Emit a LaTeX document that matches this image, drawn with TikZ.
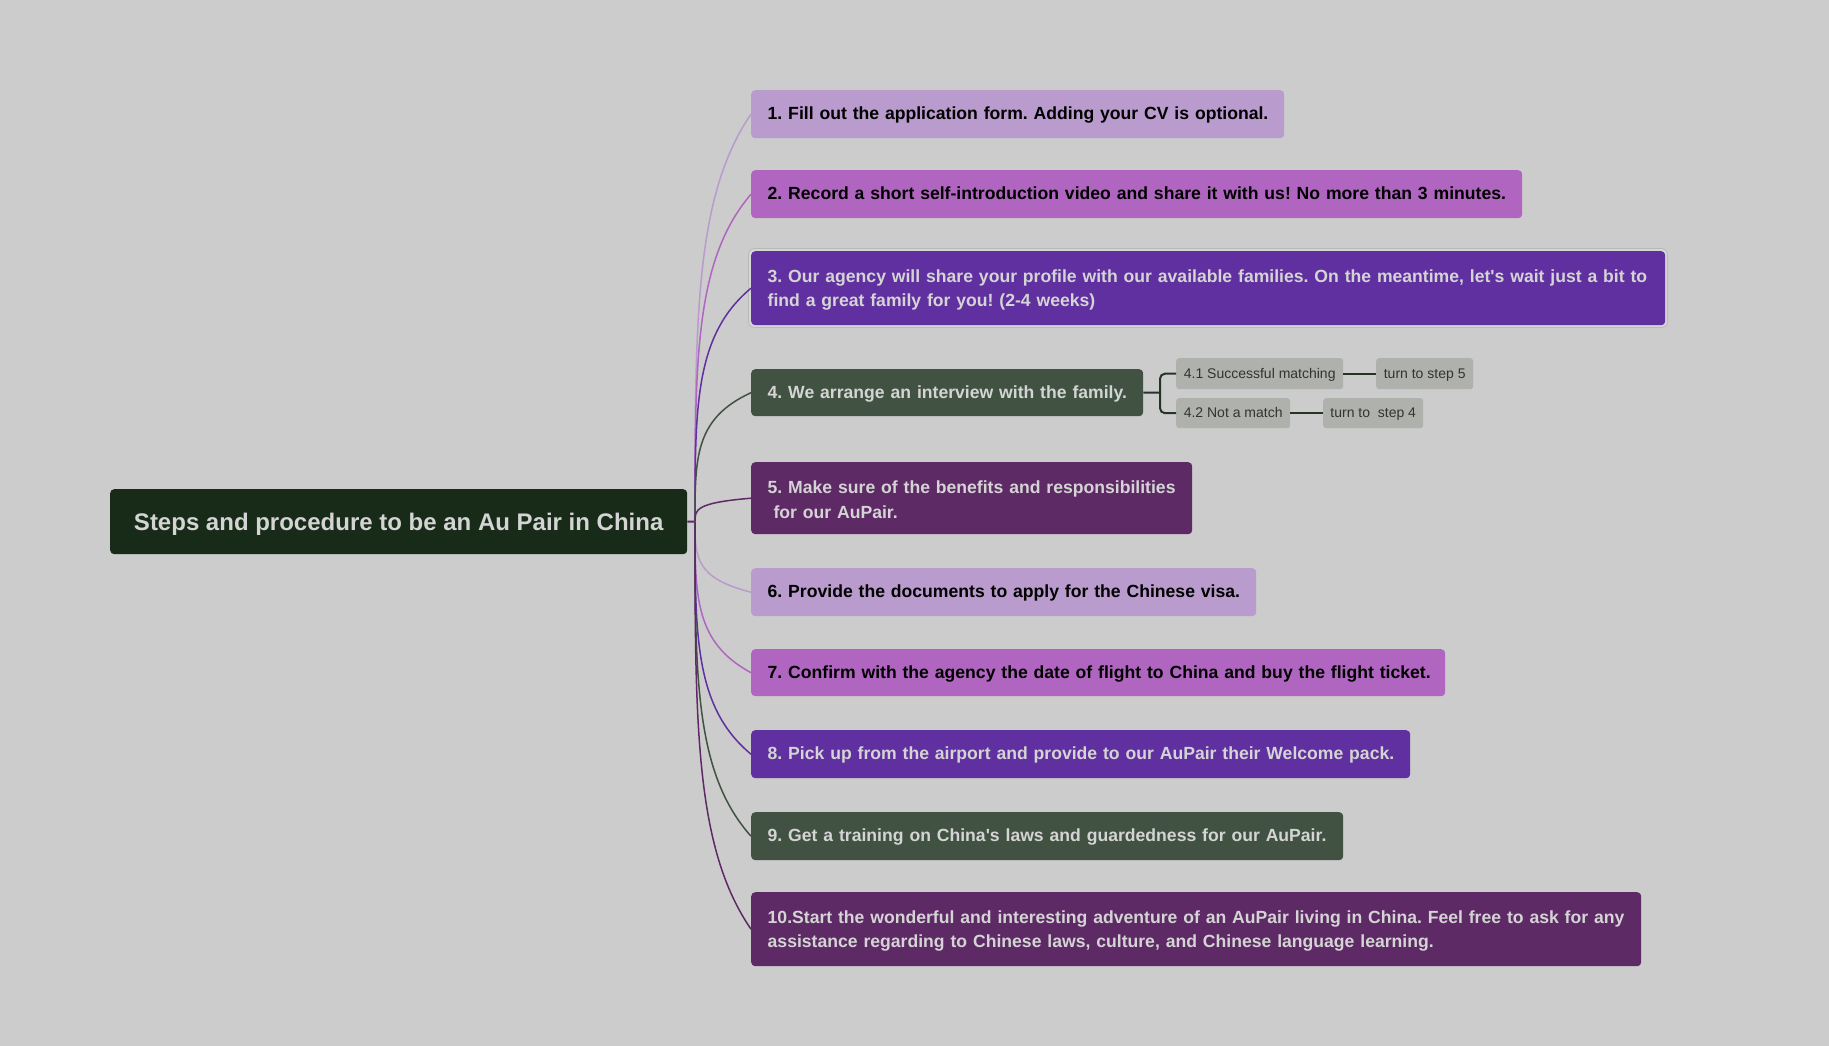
\documentclass[tikz,border=0pt]{standalone}
\usepackage{fontspec}
\setmainfont{Liberation Sans}[Ligatures=TeXOff]
\usetikzlibrary{calc}
\definecolor{bg}{HTML}{CCCCCC}
\definecolor{rootc}{HTML}{182A18}
\definecolor{lav}{HTML}{B99BCE}
\definecolor{orch}{HTML}{B066C0}
\definecolor{purp}{HTML}{6030A0}
\definecolor{sage}{HTML}{415243}
\definecolor{plum}{HTML}{5E2A66}
\definecolor{subc}{HTML}{AEB1AC}
\definecolor{lighttext}{HTML}{D4D4D4}
\definecolor{subtext}{HTML}{333333}
\definecolor{subline}{HTML}{253525}
\definecolor{ringc}{HTML}{B9B9B9}
\definecolor{ringin}{HTML}{D6D6D6}
\newcommand{\topstrut}{\rule{0pt}{16pt}}
\frenchspacing
\begin{document}
\begin{tikzpicture}[x=1pt,y=-1pt,
  stepbox/.style={anchor=north west, rounded corners=4pt, inner xsep=16.5pt, inner ysep=0pt,
    align=left, font=\fontsize{17.6}{24.5}\selectfont\bfseries\frenchspacing},
  oneline/.style={text depth=1.3pt},
  lightbox/.style={stepbox, text=black},
  darkbox/.style={stepbox, text=lighttext},
  rootbox/.style={anchor=north west, rounded corners=4pt, inner sep=0pt, fill=rootc, text=lighttext,
    minimum width=577pt, minimum height=65pt, text height=17.1pt, text depth=0pt,
    font=\fontsize{24}{28}\selectfont\bfseries},
  subbox/.style={anchor=north west, rounded corners=3pt, inner sep=0pt, fill=subc, text=subtext,
    text height=10pt, text depth=0.5pt, font=\fontsize{14}{16}\selectfont},
  conn/.style={line width=1.5pt},
  subconn/.style={draw=subline, line width=2pt}
]
\useasboundingbox (0,0) rectangle (1829,1046);
\fill[bg] (0,0) rectangle (1829,1046);

% root
\node[rootbox] (root) at (110,489) {Steps and procedure to be an Au Pair in China};

% selection ring of step 3
\draw[ringc, fill=ringin, line width=0.8pt, rounded corners=6pt] (748.5,248.5) rectangle (1667.5,327.5);

% steps
\node[lightbox, oneline, fill=lav, text width=500pt, minimum height=48pt] (b1) at (751,90)
  {\mbox{1. Fill out the application form. Adding your CV is optional.}};
\node[lightbox, oneline, fill=orch, text width=738pt, minimum height=48pt] (b2) at (751,170)
  {\mbox{2. Record a short self-introduction video and share it with us! No more than 3 minutes.}};
\node[darkbox, fill=purp, text width=881pt, minimum height=74pt] (b3) at (751,251)
  {\mbox{\topstrut 3. Our agency will share your profile with our available families. On the meantime, let's wait just a bit to}\\
   \mbox{find a great family for you! (2-4 weeks)}};
\node[darkbox, oneline, fill=sage, text width=359pt, minimum height=47pt] (b4) at (751,369)
  {\mbox{4. We arrange an interview with the family.}};
\node[darkbox, fill=plum, text width=408pt, minimum height=72pt] (b5) at (751,462)
  {\mbox{\topstrut 5. Make sure of the benefits and responsibilities}\\
   \mbox{\ for our AuPair.}};
\node[lightbox, oneline, fill=lav, text width=472pt, minimum height=48pt] (b6) at (751,568)
  {\mbox{6. Provide the documents to apply for the Chinese visa.}};
\node[lightbox, oneline, fill=orch, text width=661pt, minimum height=47pt] (b7) at (751,649)
  {\mbox{7. Confirm with the agency the date of flight to China and buy the flight ticket.}};
\node[darkbox, oneline, fill=purp, text width=626pt, minimum height=48pt] (b8) at (751,730)
  {\mbox{8. Pick up from the airport and provide to our AuPair their Welcome pack.}};
\node[darkbox, oneline, fill=sage, text width=559pt, minimum height=48pt] (b9) at (751,812)
  {\mbox{9. Get a training on China's laws and guardedness for our AuPair.}};
\node[darkbox, fill=plum, text width=857pt, minimum height=74pt] (b10) at (751,892)
  {\mbox{\topstrut 10.Start the wonderful and interesting adventure of an AuPair living in China. Feel free to ask for any}\\
   \mbox{assistance regarding to Chinese laws, culture, and Chinese language learning.}};

% connectors root -> steps
\coordinate (j) at (695,521.5);
\draw[conn, draw=plum, line width=2pt] (root.east) -- (j);
\foreach \n/\c in {b1/lav, b2/orch, b3/purp, b4/sage, b5/plum, b6/lav, b7/orch, b8/purp, b9/sage, b10/plum}
  \draw[conn, draw=\c] (j) .. controls ($(j)!0.5!(j|-\n.west)$) and ($(j|-\n.west)!0.2!(j)$) .. (\n.west);

% sub nodes of step 4
\node[subbox, minimum width=167pt, minimum height=31pt] (s41) at (1176,358) {4.1 Successful matching};
\node[subbox, minimum width=97pt, minimum height=31pt] (t5) at (1376,358) {turn to step 5};
\node[subbox, minimum width=114pt, minimum height=30pt] (s42) at (1176,398) {4.2 Not a match};
\node[subbox, minimum width=100pt, minimum height=30pt] (t4) at (1323,398) {turn to\ \ step 4};

\coordinate (k) at (1160,392.5);
\draw[subconn] (b4.east) -- (k);
\draw[subconn, rounded corners=5pt] (s41.west) -| (k) |- (s42.west);
\draw[subconn] (s41.east) -- (t5.west);
\draw[subconn] (s42.east) -- (t4.west);
\end{tikzpicture}
\end{document}
